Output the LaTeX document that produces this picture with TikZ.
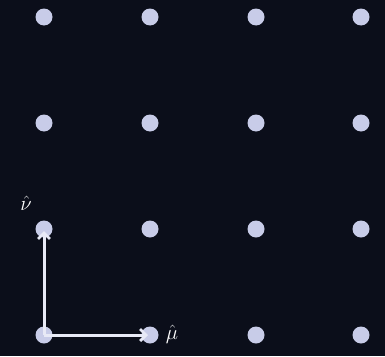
\documentclass[tikz,border=0pt]{standalone}
\usetikzlibrary{arrows.meta}
\definecolor{bg}{RGB}{11,14,26}
\definecolor{dotc}{RGB}{200,204,232}
\definecolor{arrc}{RGB}{232,234,246}
\begin{document}
\begin{tikzpicture}[x=1pt,y=-1pt,
  site/.style={circle,fill=dotc,inner sep=0pt,minimum size=17pt},
  vec/.style={draw=arrc,line width=3pt,-{Straight Barb[length=6pt,width=12pt,line width=2.8pt]}},
  lbl/.style={text=white,inner sep=0pt,font=\fontsize{22}{26}\selectfont}]
\fill[bg] (0,0) rectangle (385,356);
\useasboundingbox (0,0) rectangle (385,356);
\foreach \i/\x in {0/44,1/150,2/256,3/361}{
  \foreach \j/\y in {0/335,1/229,2/123,3/17}{
    \node[site] (p\i\j) at (\x,\y) {};
  }
}
\draw[vec] (p00.center) -- ([xshift=-2pt]p10.center);
\draw[vec] (p00.center) -- ([yshift=-2pt]p01.center);
\node[lbl] (mu) at (172,334) {$\hat{\mu}$};
\node[lbl] (nu) at (26,203) {$\hat{\nu}$};
\end{tikzpicture}
\end{document}
